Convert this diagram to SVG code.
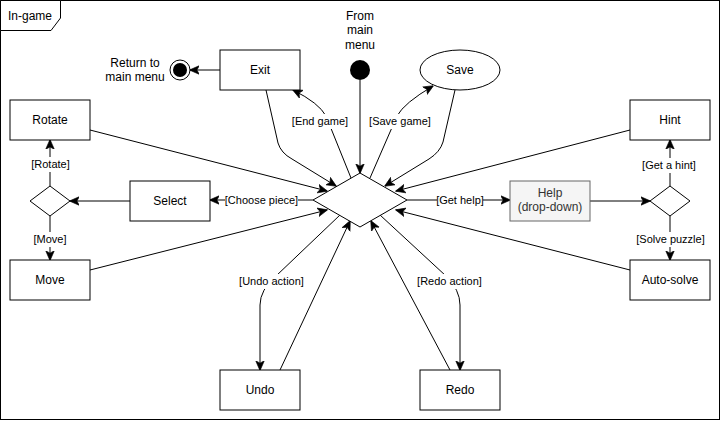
<svg xmlns="http://www.w3.org/2000/svg" width="721" height="421" viewBox="0 0 721 421">
<defs>
<style>
.n{fill:#fff;stroke:#000;stroke-width:1}
.t{font-family:"Liberation Sans",Arial,sans-serif;font-size:12px;fill:#000;text-anchor:middle}
.l{font-family:"Liberation Sans",Arial,sans-serif;font-size:11px;fill:#000;text-anchor:middle}
.lb{fill:#fff;stroke:none}
.e{fill:none;stroke:#000;stroke-width:1}
.a{marker-end:url(#arr)}
</style>
<marker id="arr" markerUnits="userSpaceOnUse" markerWidth="10" markerHeight="10" viewBox="0 0 8 8" refX="7.5" refY="4" orient="auto">
<path d="M0,0.5 L8,4 L0,7.5 L2,4 Z" fill="#000" stroke="#000" stroke-width="0.5"/>
</marker>
</defs>
<rect width="721" height="421" fill="#fff"/>
<g id="frame">
<rect x="0.5" y="0.5" width="719" height="419" fill="none" stroke="#000"/>
<polygon points="0.5,0.5 60.5,0.5 60.5,18 51,30.5 0.5,30.5" fill="#fff" stroke="#000"/>
<text class="t" x="30" y="20">In-game</text>
</g>
<g id="edges">
<path class="e a" d="M220,70 L190,70"/>
<path class="e a" d="M266,90 L278,143 Q281,153 292,159 L336,186"/>
<path class="e a" d="M455,90 L443,142 Q440,152 429,159 L385,186"/>
<path class="e a" d="M351,178 L326,116 Q319,103 293,90"/>
<path class="e a" d="M370,178 L397,116 Q404,103 433,86"/>
<path class="e a" d="M360,80 L360,173"/>
<path class="e a" d="M90,130 L327,191"/>
<path class="e a" d="M630,130 L396,191"/>
<path class="e a" d="M90,270 L327,210"/>
<path class="e a" d="M630,270 L396,210"/>
<path class="e a" d="M280,370 L350,221"/>
<path class="e a" d="M450,370 L371,221"/>
<path class="e a" d="M340,215 L276,276 Q260,290 260,305 L260,370"/>
<path class="e a" d="M380,215 L446,276 Q460,290 460,305 L460,370"/>
<path class="e a" d="M313,200 L210,200"/>
<path class="e a" d="M407,200 L510,200"/>
<path class="e a" d="M590,201 L650,201"/>
<path class="e a" d="M670,186 L670,140"/>
<path class="e a" d="M670,216 L670,260"/>
<path class="e a" d="M130,201 L70,201"/>
<path class="e a" d="M50,186 L50,140"/>
<path class="e a" d="M50,216 L50,260"/>
<rect class="lb" x="293" y="114" width="54" height="15"/>
<text class="l" x="320" y="125">[End game]</text>
<rect class="lb" x="370" y="114" width="61" height="15"/>
<text class="l" x="400" y="125">[Save game]</text>
<rect class="lb" x="225" y="193" width="73" height="15"/>
<text class="l" x="261.5" y="204">[Choose piece]</text>
<rect class="lb" x="437" y="193" width="46" height="15"/>
<text class="l" x="460" y="204">[Get help]</text>
<rect class="lb" x="240" y="274" width="63" height="15"/>
<text class="l" x="271.5" y="285">[Undo action]</text>
<rect class="lb" x="418" y="274" width="63" height="15"/>
<text class="l" x="449.5" y="285">[Redo action]</text>
<rect class="lb" x="32" y="157" width="37" height="15"/>
<text class="l" x="50.5" y="168">[Rotate]</text>
<rect class="lb" x="34" y="232" width="32" height="15"/>
<text class="l" x="50" y="243">[Move]</text>
<rect class="lb" x="639" y="158" width="60" height="15"/>
<text class="l" x="669" y="169">[Get a hint]</text>
<rect class="lb" x="637" y="232" width="67" height="15"/>
<text class="l" x="670.5" y="243">[Solve puzzle]</text>
</g>
<g id="start">
<circle cx="360" cy="70" r="10" fill="#000"/>
<text class="t" x="360" y="19.5">From</text>
<text class="t" x="360" y="34">main</text>
<text class="t" x="360" y="48.5">menu</text>
</g>
<g id="end">
<circle cx="180" cy="70" r="10" fill="#fff" stroke="#000"/>
<circle cx="180" cy="70" r="7" fill="#000"/>
<text class="t" x="135" y="67">Return to</text>
<text class="t" x="135" y="81">main menu</text>
</g>
<g id="exit"><rect class="n" x="220" y="50" width="80" height="40"/><text class="t" x="260" y="74">Exit</text></g>
<g id="save"><ellipse class="n" cx="460" cy="70" rx="40" ry="20"/><text class="t" x="460" y="74">Save</text></g>
<g id="decision"><polygon class="n" points="360,173 407,200 360,227 313,200"/></g>
<g id="rotate"><rect class="n" x="10" y="100" width="80" height="40"/><text class="t" x="50" y="124">Rotate</text></g>
<g id="choice-left"><polygon class="n" points="50,186 70,201 50,216 30,201"/></g>
<g id="select"><rect class="n" x="130" y="181" width="80" height="40"/><text class="t" x="170" y="205">Select</text></g>
<g id="move"><rect class="n" x="10" y="260" width="80" height="40"/><text class="t" x="50" y="284">Move</text></g>
<g id="help"><rect x="510" y="181" width="80" height="40" fill="#f5f5f5" stroke="#666666"/><text class="t" x="550" y="197" fill="#333333" style="fill:#333333">Help</text><text class="t" x="550" y="211" style="fill:#333333">(drop-down)</text></g>
<g id="choice-right"><polygon class="n" points="670,186 690,201 670,216 650,201"/></g>
<g id="hint"><rect class="n" x="630" y="100" width="80" height="40"/><text class="t" x="670" y="124">Hint</text></g>
<g id="autosolve"><rect class="n" x="630" y="260" width="80" height="40"/><text class="t" x="670" y="284">Auto-solve</text></g>
<g id="undo"><rect class="n" x="220" y="370" width="80" height="40"/><text class="t" x="260" y="394">Undo</text></g>
<g id="redo"><rect class="n" x="420" y="370" width="80" height="40"/><text class="t" x="460" y="394">Redo</text></g>
</svg>
